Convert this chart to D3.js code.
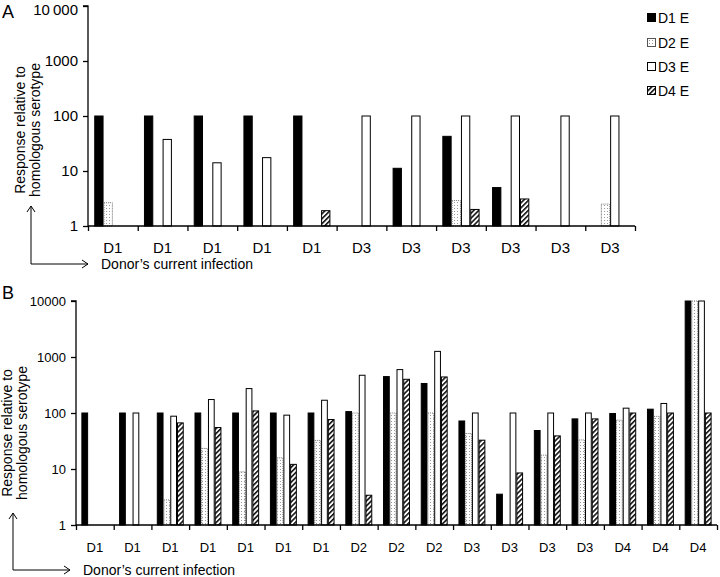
<!DOCTYPE html>
<html><head><meta charset="utf-8">
<script src="https://cdn.jsdelivr.net/npm/d3@7"></script>
<style>
body{margin:0;background:#fff;}
svg{display:block;font-family:"Liberation Sans",Arial,sans-serif;}
</style></head>
<body>
<svg id="chart" width="720" height="577"></svg>
<script>
// ---------- data ----------
const series = ["D1 E", "D2 E", "D3 E", "D4 E"];

const categoriesA = ["D1","D1","D1","D1","D1","D3","D3","D3","D3","D3","D3"];
const a_D1 = [100, 100, 100, 100, 100, null, 11.2, 42.7, 5.0, null, null];
const a_D2 = [2.65, null, null, null, null, null, null, 2.9, null, null, 2.5];
const a_D3 = [null, 37.5, 14.1, 17.5, null, 100, 100, 100, 100, 100, 100];
const a_D4 = [null, null, null, null, 1.9, null, null, 2.0, 3.1, null, null];

const categoriesB = ["D1","D1","D1","D1","D1","D1","D1","D2","D2","D2","D3","D3","D3","D3","D4","D4","D4"];
const b_D1 = [100, 100, 100, 100, 100, 100, 100, 106, 447, 336, 72, 3.55, 48.7, 78.5, 98, 117, 10000];
const b_D2 = [null, null, 2.8, 23.3, 8.9, 15.8, 32.4, 100, 100, 100, 43, null, 17.7, 33, 74.5, 87, 10000];
const b_D3 = [null, 100, 87.7, 174, 273, 91.5, 169, 472, 596, 1260, 100, 100, 100, 100, 122, 148, 10000];
const b_D4 = [null, null, 66.6, 55, 109, 12.1, 76.6, 3.4, 400, 440, 32.7, 8.5, 39, 78.5, 100, 100, 100];

const yTicks = [1, 10, 100, 1000, 10000];
const yTickLabelsA = ["1", "10", "100", "1000", "10\u2009000"];
const yTickLabelsB = ["1", "10", "100", "1000", "10000"];
const yTitle = ["Response relative to", "homologous serotype"];
const xTitle = "Donor\u2019s current infection";

// ---------- drawing ----------
const svg = d3.select("#chart");
const defs = svg.append("defs");

// dotted pattern (D2)
const pd = defs.append("pattern").attr("id","dots").attr("patternUnits","userSpaceOnUse")
  .attr("width",3).attr("height",3);
pd.append("rect").attr("width",3).attr("height",3).attr("fill","#fff");
pd.append("rect").attr("x",1).attr("y",1).attr("width",1).attr("height",1).attr("fill","#999");

// hatch pattern (D4)
const ph = defs.append("pattern").attr("id","hatch").attr("patternUnits","userSpaceOnUse")
  .attr("width",3.5).attr("height",3.5).attr("patternTransform","rotate(45)");
ph.append("rect").attr("width",3.5).attr("height",3.5).attr("fill","#fff");
ph.append("rect").attr("x",0).attr("y",0).attr("width",1.6).attr("height",3.5).attr("fill","#111");

const styles = {
  "D1 E": {fill:"#000", stroke:"#000", dash:null},
  "D2 E": {fill:"url(#dots)", stroke:"#777", dash:"1,1"},
  "D3 E": {fill:"#fff", stroke:"#000", dash:null},
  "D4 E": {fill:"url(#hatch)", stroke:"#000", dash:null}
};

function panel(opt){
  const g = svg.append("g");
  const n = opt.categories.length;
  const x = d3.scaleBand().domain(d3.range(n)).range([opt.x0, opt.x1]).padding(0);
  const xs = d3.scaleBand().domain(series).range([0, x.bandwidth()]).paddingInner(0).paddingOuter(opt.po);
  const y = d3.scaleLog().domain([1, 10000]).range([opt.yb, opt.yt]);
  const vals = {"D1 E":opt.d1, "D2 E":opt.d2, "D3 E":opt.d3, "D4 E":opt.d4};

  const data = [];
  series.forEach(s => vals[s].forEach((v,i) => { if (v != null) data.push({s, i, v}); }));

  g.selectAll("rect.bar").data(data).enter().append("rect")
    .attr("class","bar")
    .attr("x", d => x(d.i) + xs(d.s) + 0.5)
    .attr("width", xs.bandwidth() - 1)
    .attr("y", d => y(Math.min(d.v, 10000)))
    .attr("height", d => Math.max(0, y(1) - y(Math.min(d.v, 10000))))
    .attr("fill", d => styles[d.s].fill)
    .attr("stroke", d => styles[d.s].stroke)
    .attr("stroke-dasharray", d => styles[d.s].dash)
    .attr("stroke-width", 1);

  // y axis
  const ya = d3.axisLeft(y).tickValues(yTicks).tickSize(5).tickPadding(5)
    .tickFormat((d,i) => opt.yLabels[i]);
  const gy = g.append("g").attr("transform", `translate(${opt.x0},0)`).call(ya);
  gy.select(".domain").attr("stroke","#000").attr("stroke-width",1.3).attr("d", `M-5,${opt.yt}H0V${opt.yb}`);
  gy.selectAll(".tick line").attr("stroke","#000").attr("stroke-width",1.3);
  gy.selectAll(".tick text").attr("font-size", opt.tickFs).attr("fill","#000")
    .attr("font-family","Liberation Sans, Arial, sans-serif")
    .attr("dy", d => (d === 10000 ? opt.topDy : "0.32em"));

  // x axis: boundary ticks
  const xb = d3.scaleLinear().domain([0, n]).range([opt.x0, opt.x1]);
  const xa = d3.axisBottom(xb).tickValues(d3.range(n + 1)).tickSize(5).tickFormat("");
  const gx = g.append("g").attr("transform", `translate(0,${opt.yb})`).call(xa);
  gx.select(".domain").attr("stroke","#000").attr("stroke-width",1.3).attr("d", `M${opt.x0},0H${opt.x1}`);
  gx.selectAll(".tick line").attr("stroke","#000").attr("stroke-width",1.3);

  // category labels
  g.selectAll("text.cat").data(opt.categories).enter().append("text")
    .attr("class","cat")
    .attr("x", (d,i) => x(i) + x.bandwidth()/2)
    .attr("y", opt.catY)
    .attr("text-anchor","middle")
    .attr("dominant-baseline","central")
    .attr("font-size", opt.tickFs)
    .text(d => d);

  // y title
  yTitle.forEach((t, k) => {
    g.append("text")
      .attr("transform", `translate(${opt.titleX[k]},${opt.titleY}) rotate(-90)`)
      .attr("text-anchor","middle")
      .attr("dominant-baseline","central")
      .attr("font-size", 14)
      .text(t);
  });

  // arrows
  const ax = opt.arrowX, ayTop = opt.arrowTop, ayBot = opt.arrowBot, axEnd = opt.arrowEnd;
  g.append("path").attr("fill","none").attr("stroke","#000").attr("stroke-width",1)
    .attr("d", `M${ax},${ayTop}V${ayBot}H${axEnd}`);
  g.append("path").attr("fill","none").attr("stroke","#000").attr("stroke-width",1)
    .attr("d", `M${ax-4},${ayTop+6}L${ax},${ayTop}L${ax+4},${ayTop+6}`);
  g.append("path").attr("fill","none").attr("stroke","#000").attr("stroke-width",1)
    .attr("d", `M${axEnd-6},${ayBot-4}L${axEnd},${ayBot}L${axEnd-6},${ayBot+4}`);
  g.append("text").attr("x", axEnd + 13).attr("y", ayBot)
    .attr("dominant-baseline","central").attr("font-size",14).text(xTitle);

  // panel letter
  g.append("text").attr("x", 2).attr("y", opt.letterY).attr("font-size", 18).text(opt.letter);
}

panel({
  categories: categoriesA, d1:a_D1, d2:a_D2, d3:a_D3, d4:a_D4,
  x0:88, x1:635, yt:6, yb:226, po:0.67, tickFs:15, yLabels:yTickLabelsA, topDy:"0.55em",
  catY:247, titleX:[20,35], titleY:130,
  arrowX:31, arrowTop:206, arrowBot:264, arrowEnd:88, letter:"A", letterY:18
});

panel({
  categories: categoriesB, d1:b_D1, d2:b_D2, d3:b_D3, d4:b_D4,
  x0:76, x1:717, yt:301, yb:525, po:0.8, tickFs:13, yLabels:yTickLabelsB, topDy:"0.32em",
  catY:547, titleX:[7,22], titleY:433,
  arrowX:13, arrowTop:513, arrowBot:570, arrowEnd:70, letter:"B", letterY:299
});

// legend (panel A)
const lg = svg.append("g");
series.forEach((s, k) => {
  const yy = [18, 43, 67, 91][k];
  lg.append("rect").attr("x", 647.5).attr("y", yy - 4.5).attr("width", 8).attr("height", 8)
    .attr("fill", styles[s].fill).attr("stroke", s === "D2 E" ? "#555" : "#000").attr("stroke-width", 1);
  lg.append("text").attr("x", 658).attr("y", yy).attr("dominant-baseline","central")
    .attr("font-size", 14).text(s);
});
</script>
</body></html>
